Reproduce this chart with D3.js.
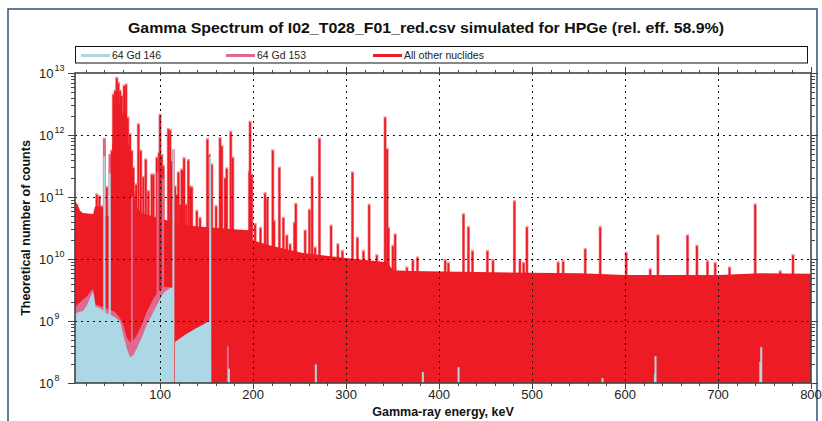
<!DOCTYPE html>
<html><head><meta charset="utf-8">
<script src="https://cdn.jsdelivr.net/npm/d3@7"></script>
<style>
body{margin:0;background:#fff;}
svg{display:block;font-family:"Liberation Sans",Arial,sans-serif;}
</style></head><body>
<svg id="c" width="822" height="421"></svg>
<script>
// ---------- data ----------
const chartTitle = "Gamma Spectrum of I02_T028_F01_red.csv simulated for HPGe (rel. eff. 58.9%)";
const xTitle = "Gamma-ray energy, keV";
const yTitle = "Theoretical number of counts";
const seriesNames = ["64 Gd 146", "64 Gd 153", "All other nuclides"];
const seriesColors = ["#acd8e6", "#de6b8f", "#ed1c24"];
const xTickLabels = [100, 200, 300, 400, 500, 600, 700, 800];
const yTickExponents = [8, 9, 10, 11, 12, 13];

// total continuum (all nuclides, without the narrow lines), keV / counts
const contEnergy = [8.6, 11.5, 14, 17, 28, 30, 38, 40, 47, 48.4, 50.5, 52.7, 54.8, 57, 59.1, 61.3, 63.4, 65.6, 67.7, 69.9, 72, 74, 80, 90, 100, 113, 135, 182, 196, 199.5, 221.6, 253.8, 296.9, 344.2, 350.6, 369, 422.7, 551.8, 600.2, 700.3, 745.4, 800];
const contTotal  = [8.4e10, 7.5e10, 6e10, 5.5e10, 5.3e10, 7e10, 7e10, 5e10, 5e10, 5.8e11, 2.5e12, 4.5e12, 3.6e12, 3.0e12, 2.1e12, 2.5e12, 2.1e12, 8.3e11, 4.8e11, 2.7e11, 1.3e11, 7e10, 5.5e10, 5e10, 4.5e10, 4.0e10, 3.4e10, 3.0e10, 2.9e10, 2.0e10, 1.6e10, 1.25e10, 1.05e10, 8.9e9, 6.6e9, 6.4e9, 6.2e9, 5.9e9, 5.5e9, 5.5e9, 5.9e9, 5.8e9];

// Gd-146 and Gd-153 continua (same energy grid)
const gdEnergy  = [8.6, 17, 21.5, 24.7, 28, 30.6, 35.5, 42, 51.6, 57, 60.5, 64.2, 67.7, 71.3, 74.9, 80.3, 85.7, 92.8, 98.2, 103.5, 110.8, 113.7, 113.8, 116.0, 116.1, 127, 138, 148, 154.8, 154.9];
const gd146Cont = [1.33e9, 1.45e9, 1.8e9, 2.4e9, 3.0e9, 1.7e9, 1.6e9, 1.35e9, 1.15e9, 9.8e8, 5.9e8, 3.6e8, 2.6e8, 2.8e8, 3.6e8, 5.4e8, 8.7e8, 1.4e9, 2.0e9, 2.8e9, 3.4e9, 3.4e9, 0, 0, 4.6e8, 6e8, 7.5e8, 9e8, 1.05e9, 0];
const gd153Cont = [3.7e8, 7.5e8, 7e8, 5.5e8, 3e8, 1.5e8, 1.5e8, 2.5e8, 2.5e8, 1.2e8, 2.8e8, 1.8e8, 1.9e8, 2.1e8, 2.3e8, 3.3e8, 5.4e8, 9e8, 9.5e8, 7.5e8, 1e8, 1e8, 0, 0, 0, 0, 0, 0, 0, 0];

// narrow lines, total height (all nuclides stacked)
const peakEnergy = [31.9, 34.7, 37.3, 40.1, 42.7, 46.2, 48.0, 49.8, 51.6, 53.4, 55.1, 57.0, 58.8, 61.3, 63.4, 65.3, 67.7, 69.6, 71.3, 74.2, 76.7, 79.2, 82.0, 84.6, 87.4, 91.1, 92.8, 96.5, 98.9, 100.0, 101.8, 103.5, 108.9, 110.8, 112.6, 114.3, 116.1, 118.0, 119.7, 121.5, 123.3, 124.4, 125.8, 128.0, 130.4, 132.3, 134.1, 139.5, 143.0, 150.9, 153.0, 155.6, 160.2, 164.5, 166.4, 169.9, 171.7, 176.0, 178.2, 196.1, 196.8, 198.6, 202.2, 208.0, 212.9, 215.4, 221.2, 222.6, 228.3, 232.6, 236.3, 239.8, 244.5, 246.0, 256.0, 260.6, 263.5, 266.7, 271.4, 283.9, 291.2, 296.1, 306.9, 312.2, 318.7, 324.8, 333.1, 342.0, 344.2, 345.6, 350.3, 352.8, 365.4, 371.8, 376.8, 406.6, 410.1, 426.3, 431.6, 436, 452, 458, 481.1, 487, 491, 494.5, 528.1, 533.5, 557.2, 573.3, 601.3, 627.1, 635.4, 667.2, 677.3, 688.7, 697.0, 712.4, 740.0, 766.9, 780.6];
const peakTotal  = [1.15e11, 1.07e11, 7.4e10, 8.9e11, 1.5e11, 4.9e11, 5.8e11, 4.7e12, 5.4e12, 8.7e12, 7.2e12, 5.4e12, 4.5e12, 6.5e12, 6.8e12, 2.0e12, 1.07e12, 5.8e11, 3.1e11, 1.66e11, 1.55e12, 5.8e11, 2.2e11, 4.2e11, 1.3e11, 2.4e11, 2.4e11, 4.5e11, 5.4e11, 2.2e12, 5.0e11, 3.3e11, 1.3e12, 1.25e12, 4.0e11, 5.9e11, 1.55e11, 1.15e11, 2.6e11, 7.9e10, 2.9e11, 2.8e11, 4.4e11, 7.9e10, 4.1e11, 1.55e11, 1.5e11, 6.2e10, 4.8e10, 8.9e11, 5.0e11, 3.5e11, 7.4e10, 9.3e11, 6.9e11, 2.1e11, 3.0e11, 1.17e12, 4.5e11, 2.7e11, 1.7e12, 2.4e11, 3.8e10, 3.3e10, 1.2e11, 1.0e11, 5.9e11, 4.3e10, 3.1e11, 4.8e10, 2.5e10, 1.8e10, 4.0e10, 8.1e10, 3.0e10, 6.5e10, 2.2e11, 1.6e10, 9.1e11, 3.6e10, 1.8e10, 1.4e10, 2.6e11, 2.3e10, 1.4e10, 7.8e10, 1.2e10, 2.0e12, 6.2e11, 3.3e10, 1.7e10, 2.6e10, 7.6e9, 1.0e10, 1.1e10, 1.0e10, 9e9, 5.5e10, 3.4e10, 1.4e10, 1.4e10, 1.0e10, 8.9e10, 1.0e10, 9e9, 3.4e10, 9.2e9, 9.6e9, 1.5e10, 3.4e10, 1.3e10, 7.1e9, 2.5e10, 2.5e10, 1.7e10, 9.6e9, 9.0e9, 7.6e9, 7.9e10, 6.6e9, 1.2e10];

// Gd-146 lines
const gd146PeakEnergy = [40.1, 45.8, 114.3, 153.9, 174.0, 267.5, 382.6, 421.0, 575.8, 632.2, 632.8, 745.5, 746.5];
const gd146PeakValue  = [4.5e11, 2.4e11, 5.7e11, 4.5e11, 1.7e8, 2.0e8, 1.5e8, 1.8e8, 1.2e8, 1.4e8, 2.7e8, 2.2e8, 3.8e8];
// Gd-153 lines (own contribution)
const gd153PeakEnergy = [40.1, 45.8, 69.7, 97.4, 103.2, 172.9];
const gd153PeakValue  = [4.4e11, 2.5e11, 1e11, 2.5e11, 2.0e11, 3.9e8];

// ---------- drawing ----------
const svg = d3.select("#c");
const M = {l: 75, r: 811, t: 73, b: 383};
const x = d3.scaleLinear().domain([8.5, 800]).range([M.l, M.r]);
const y = d3.scaleLog().domain([1e8, 1e13]).range([M.b, M.t]).clamp(true);
const yv = v => y(Math.max(v, 1e8));

// outer frame
svg.append("path").attr("d", "M8,421V9H817V421").attr("fill", "none")
  .attr("stroke", "#2f4f7f").attr("stroke-width", 1.5);

// title
svg.append("text").attr("x", 426).attr("y", 33.3).attr("text-anchor", "middle")
  .attr("font-size", 14.5).attr("font-weight", "bold").attr("fill", "#111")
  .attr("textLength", 596).attr("lengthAdjust", "spacingAndGlyphs").text(chartTitle);

// legend
svg.append("rect").attr("x", 75.5).attr("y", 46.5).attr("width", 732).attr("height", 16.5)
  .attr("fill", "#fff").attr("stroke", "#111").attr("stroke-width", 1);
const legX = [81, 226, 373];
seriesNames.forEach((n, i) => {
  svg.append("line").attr("x1", legX[i]).attr("x2", legX[i] + 29).attr("y1", 55.5).attr("y2", 55.5)
    .attr("stroke", seriesColors[i]).attr("stroke-width", 3);
  svg.append("text").attr("x", legX[i] + 31).attr("y", 59).attr("font-size", 10.5)
    .attr("fill", "#222").text(n);
});

// plot
svg.append("clipPath").attr("id", "pc").append("rect")
  .attr("x", M.l).attr("y", M.t).attr("width", M.r - M.l).attr("height", M.b - M.t);
const g = svg.append("g").attr("clip-path", "url(#pc)");

const area = d3.area().x(d => x(d[0])).y0(M.b).y1(d => yv(d[1]));
const peaks = peakEnergy.map((e, i) => [e, peakTotal[i]]);

// soft (lighter) edge of each line, hidden below the continuum
g.selectAll("rect.ph").data(peaks).enter()
  .append("rect").attr("class", "ph")
  .attr("x", d => x(d[0]) - 1.6).attr("width", 3.2)
  .attr("y", d => yv(d[1])).attr("height", d => M.b - yv(d[1]))
  .attr("fill", "#f39499");
// all other nuclides (total)
g.append("path").datum(contEnergy.map((e, i) => [e, contTotal[i]]))
  .attr("d", area).attr("fill", seriesColors[2]);
g.selectAll("rect.pk").data(peaks).enter()
  .append("rect").attr("class", "pk")
  .attr("x", d => x(d[0]) - 0.9).attr("width", 1.8)
  .attr("y", d => yv(d[1]) + 1.5).attr("height", d => Math.max(0, M.b - yv(d[1]) - 1.5))
  .attr("fill", seriesColors[2]);

// Gd-153 (stacked on Gd-146)
g.append("path").datum(gdEnergy.map((e, i) => [e, gd146Cont[i] + gd153Cont[i]]))
  .attr("d", area).attr("fill", seriesColors[1]);
const blueAt = e => { const k = gd146PeakEnergy.indexOf(e); return k >= 0 ? gd146PeakValue[k] : 0; };
g.selectAll("rect.pp").data(gd153PeakEnergy.map((e, i) => [e, gd153PeakValue[i] + blueAt(e)])).enter()
  .append("rect").attr("class", "pp")
  .attr("x", d => x(d[0]) - 1).attr("width", 2)
  .attr("y", d => yv(d[1])).attr("height", d => M.b - yv(d[1]))
  .attr("fill", seriesColors[1]);

// Gd-146
g.append("path").datum(gdEnergy.map((e, i) => [e, gd146Cont[i]]))
  .attr("d", area).attr("fill", seriesColors[0]);
g.selectAll("rect.bp").data(gd146PeakEnergy.map((e, i) => [e, gd146PeakValue[i]])).enter()
  .append("rect").attr("class", "bp")
  .attr("x", d => x(d[0]) - 1).attr("width", 2)
  .attr("y", d => yv(d[1])).attr("height", d => M.b - yv(d[1]))
  .attr("fill", seriesColors[0]);

// grid
const grid = svg.append("g").attr("stroke", "#111").attr("stroke-width", 1).attr("stroke-dasharray", "2,4");
yTickExponents.slice(1, -1).forEach(p => {
  const yy = Math.round(y(Math.pow(10, p))) + 0.5;
  grid.append("line").attr("x1", M.l).attr("x2", M.r).attr("y1", yy).attr("y2", yy);
});
xTickLabels.slice(0, -1).forEach(v => {
  const xx = Math.round(x(v)) + 0.5;
  grid.append("line").attr("x1", xx).attr("x2", xx).attr("y1", M.t).attr("y2", M.b);
});

// axes frame
const ax = svg.append("g").attr("stroke", "#444");
ax.append("rect").attr("x", M.l).attr("y", M.t).attr("width", M.r - M.l).attr("height", M.b - M.t)
  .attr("fill", "none").attr("stroke-width", 1.6);

// x ticks (top & bottom)
d3.range(20, 801, 20).forEach(v => {
  const xx = Math.round(x(v)) + 0.5, major = v % 100 === 0;
  ax.append("line").attr("x1", xx).attr("x2", xx).attr("y1", M.b).attr("y2", M.b + (major ? 6 : 3)).attr("stroke-width", 1);
  ax.append("line").attr("x1", xx).attr("x2", xx).attr("y1", M.t).attr("y2", M.t - (major ? 6 : 3)).attr("stroke-width", 1);
});
// y ticks (left & right)
yTickExponents.forEach(p => {
  const yy = Math.round(y(Math.pow(10, p))) + 0.5;
  ax.append("line").attr("x1", M.l - 7).attr("x2", M.l).attr("y1", yy).attr("y2", yy).attr("stroke-width", 1);
  ax.append("line").attr("x1", M.r).attr("x2", M.r + 7).attr("y1", yy).attr("y2", yy).attr("stroke-width", 1);
  if (p < 13) d3.range(2, 10).forEach(k => {
    const ym = Math.round(y(k * Math.pow(10, p))) + 0.5;
    ax.append("line").attr("x1", M.l - 4).attr("x2", M.l).attr("y1", ym).attr("y2", ym).attr("stroke-width", 1);
    ax.append("line").attr("x1", M.r).attr("x2", M.r + 4).attr("y1", ym).attr("y2", ym).attr("stroke-width", 1);
  });
});

// tick labels
xTickLabels.forEach(v => {
  svg.append("text").attr("x", x(v)).attr("y", 398.5).attr("text-anchor", "middle")
    .attr("font-size", 13).attr("fill", "#222").text(v);
});
yTickExponents.forEach(p => {
  const yy = y(Math.pow(10, p));
  svg.append("text").attr("x", 53.5).attr("y", yy + 4.6).attr("text-anchor", "end")
    .attr("font-size", 13).attr("fill", "#222").text("10");
  svg.append("text").attr("x", 54.5).attr("y", yy - 2.5)
    .attr("font-size", 9).attr("fill", "#222").text(p);
});

// axis titles
svg.append("text").attr("x", 443).attr("y", 416).attr("text-anchor", "middle")
  .attr("font-size", 12.5).attr("font-weight", "bold").attr("fill", "#111").text(xTitle);
svg.append("text").attr("transform", "translate(30,228) rotate(-90)").attr("text-anchor", "middle")
  .attr("font-size", 12.5).attr("font-weight", "bold").attr("fill", "#111").text(yTitle);
</script>
</body></html>
